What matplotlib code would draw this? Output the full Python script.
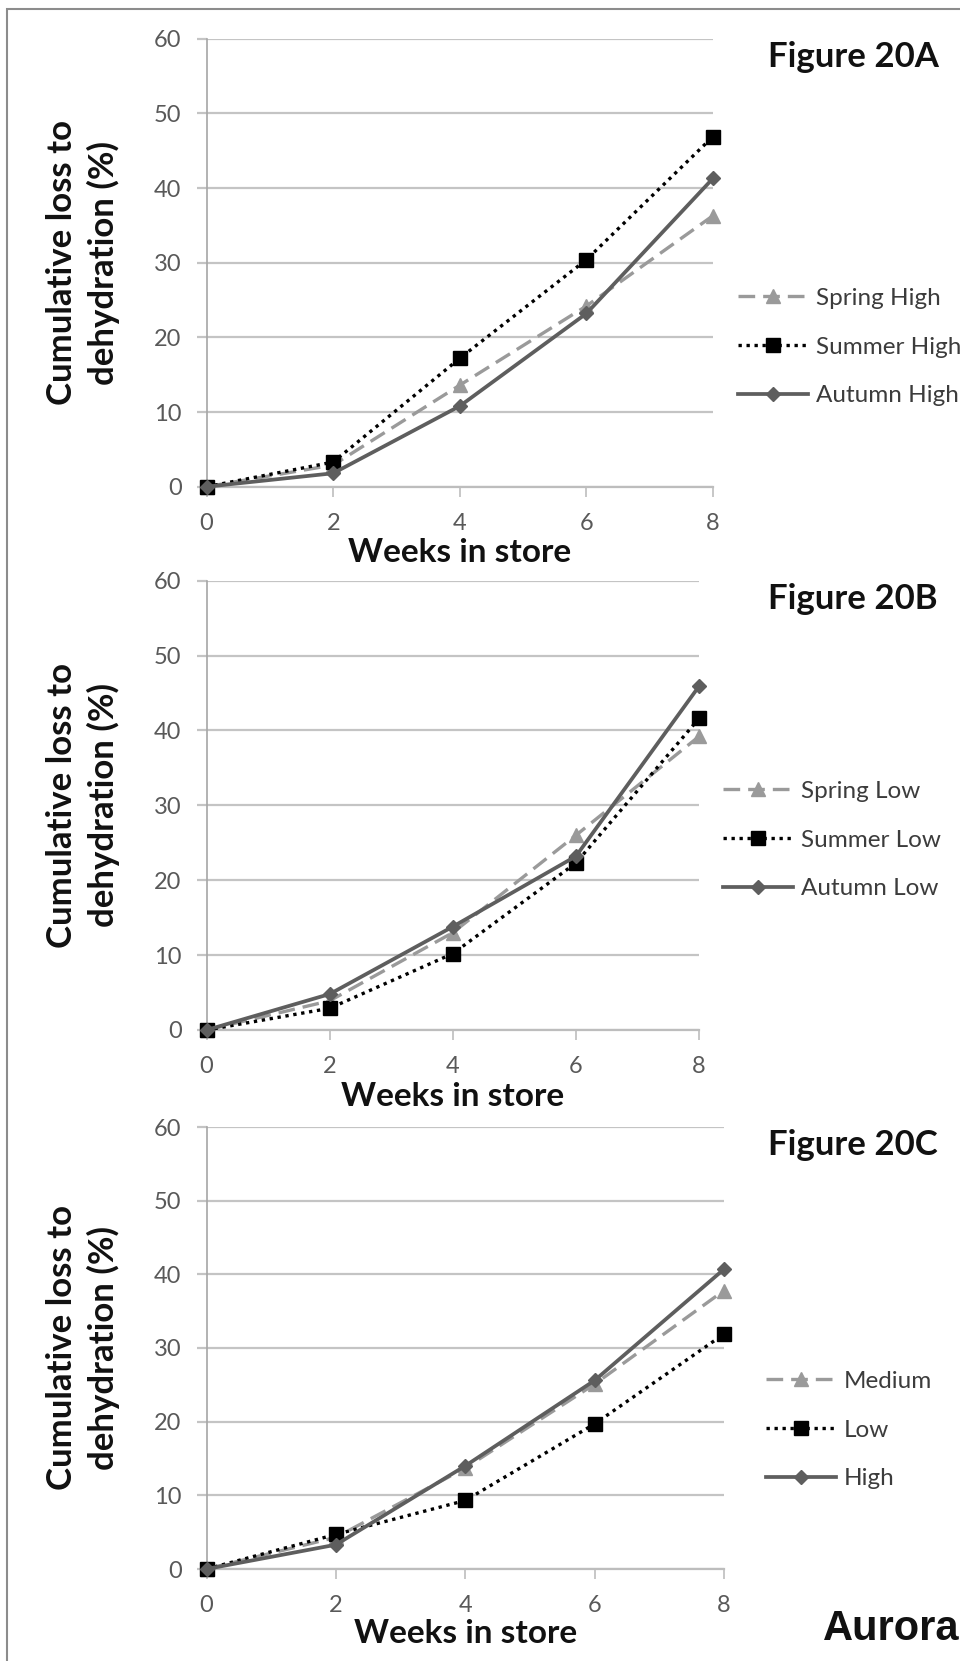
import matplotlib
matplotlib.use("Agg")
import matplotlib.pyplot as plt
from matplotlib.patches import Rectangle

plt.rcParams['font.family'] = ['Lato', 'DejaVu Sans']

weeks = [0, 2, 4, 6, 8]
y_ticks = [0, 10, 20, 30, 40, 50, 60]
x_ticks = [0, 2, 4, 6, 8]

# Figure 20A - high humidity by season
spring_high = [0, 2.9, 13.6, 24.2, 36.3]
summer_high = [0, 3.3, 17.2, 30.4, 46.9]
autumn_high = [0, 1.8, 10.8, 23.2, 41.3]
labels_a = ["Spring High", "Summer High", "Autumn High"]

# Figure 20B - low humidity by season
spring_low = [0, 3.9, 13.0, 26.0, 39.2]
summer_low = [0, 2.9, 10.2, 22.3, 41.6]
autumn_low = [0, 4.8, 13.8, 23.2, 45.9]
labels_b = ["Spring Low", "Summer Low", "Autumn Low"]

# Figure 20C - humidity level overall
medium = [0, 4.3, 13.7, 25.1, 37.8]
low = [0, 4.7, 9.3, 19.7, 31.9]
high = [0, 3.3, 14.0, 25.6, 40.7]
labels_c = ["Medium", "Low", "High"]

titles = ["Figure 20A", "Figure 20B", "Figure 20C"]
ylabel = "Cumulative loss to\ndehydration (%)"
xlabel = "Weeks in store"

W, H = 960, 1661
fig = plt.figure(figsize=(W / 100, H / 100), dpi=100)
fig.patch.set_facecolor("white")

# outer frame (runs off the right and bottom edges)
fig.add_artist(Rectangle((7 / W, -0.1), 2.0, 1.1 - 9 / H, transform=fig.transFigure,
                         fill=False, edgecolor="#8c8c8c", linewidth=1.5))

# axes boxes in pixels: left, right, top, bottom
boxes = [(206.6, 713, 38.7, 486.7),
         (206.6, 699, 580.7, 1030),
         (206.6, 724, 1127, 1569)]
legend_pos = [(738, 347), (723, 840), (766, 1430)]

styles = [
    dict(color="#9a9a9a", linestyle=(0, (5, 2.4)), linewidth=2.4, marker="^", markersize=10),
    dict(color="#000000", linestyle=(0, (1, 1.4)), linewidth=2.4, marker="s", markersize=10),
    dict(color="#5e5e5e", linestyle="-", linewidth=2.7, marker="D", markersize=7),
]

panels = [
    ([spring_high, summer_high, autumn_high], labels_a),
    ([spring_low, summer_low, autumn_low], labels_b),
    ([medium, low, high], labels_c),
]

for i, ((series, labels), (l, r, t, b)) in enumerate(zip(panels, boxes)):
    ax = fig.add_axes([l / W, 1 - b / H, (r - l) / W, (b - t) / H])
    handles = []
    for vals, lab, st in zip(series, labels, styles):
        h, = ax.plot(weeks, vals, label=lab, clip_on=False, zorder=3, **st)
        handles.append(h)
    ax.set_xlim(0, 8)
    ax.set_ylim(0, 60)
    ax.set_xticks(x_ticks)
    ax.set_yticks(y_ticks)
    ax.yaxis.grid(True, color="#c4c4c4", linewidth=1.6)
    ax.set_axisbelow(True)
    for s in ("top", "right"):
        ax.spines[s].set_visible(False)
    ax.spines["left"].set_color("#a6a6a6")
    ax.spines["left"].set_linewidth(1.2)
    ax.spines["bottom"].set_color("#bdbdbd")
    ax.spines["bottom"].set_linewidth(1.6)
    ax.tick_params(axis="x", direction="out", length=7, width=1.2, color="#bdbdbd",
                   pad=12, labelsize=17, labelcolor="#595959")
    ax.tick_params(axis="y", direction="out", length=7, width=1.6, color="#c4c4c4",
                   pad=11, labelsize=17, labelcolor="#595959")

    # axis titles
    ax.text(0.5, -(562 - 486.7) / 448, xlabel, transform=ax.transAxes, ha="center",
            va="baseline", fontsize=24, fontweight="bold", color="#111111")
    yc = 1 - (t + b) / 2 / H
    fig.text(83 / W, yc, ylabel, rotation=90, ha="center", va="center",
             multialignment="center", fontsize=25, fontweight="bold",
             color="#111111", linespacing=1.3)

    # panel title
    fig.text(768 / W, 1 - (t + 28) / H, titles[i], ha="left", va="baseline",
             fontsize=25, fontweight="bold", color="#111111")

    lx, ly = legend_pos[i]
    ax.legend(handles=handles, loc="center left", bbox_to_anchor=(lx / W, 1 - ly / H),
              bbox_transform=fig.transFigure, frameon=False, borderpad=0,
              borderaxespad=0, handlelength=2.9, handletextpad=0.3,
              labelspacing=1.15, fontsize=17.5, labelcolor="#3c3c3c", numpoints=1)

fig.text(823 / W, 1 - 1640 / H, "Aurora", ha="left", va="baseline",
         fontsize=30, fontweight="bold", family=["Liberation Sans", "DejaVu Sans"],
         color="#111111")

fig.savefig("out.png", dpi=100)
